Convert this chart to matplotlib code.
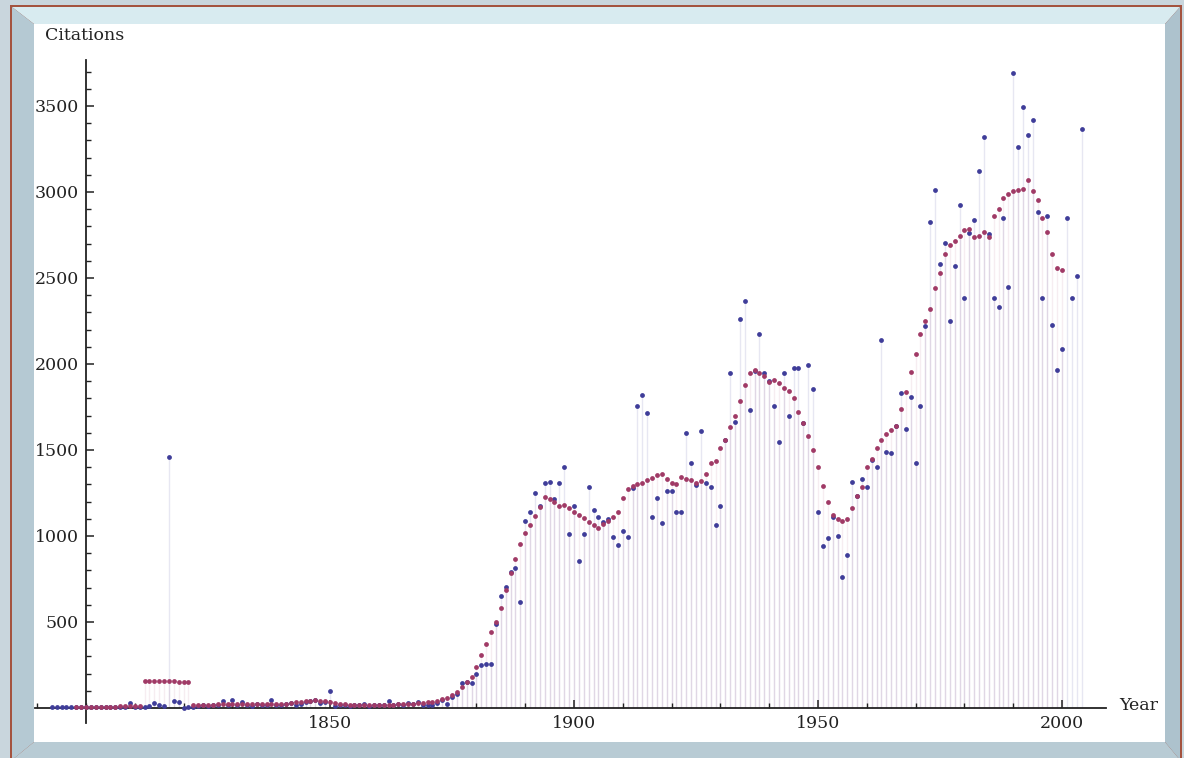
import matplotlib
matplotlib.use('Agg')
import matplotlib.pyplot as plt
from matplotlib.patches import Polygon
from matplotlib.ticker import FixedLocator, MultipleLocator

# Citations per year
years = list(range(1793, 2005))
citations = [
    3, 5, 4, 6, 5, 4, 6,
    5, 3, 5, 4, 6, 5, 8, 6, 5, 30,
    8, 6, 5, 10, 30, 18, 10, 1460, 42, 37,
    0, 8, 5, 10, 15, 10, 20, 15, 40, 20,
    48, 15, 35, 20, 10, 25, 20, 15, 48, 20,
    15, 25, 30, 20, 25, 35, 40, 45, 30, 35,
    100, 10, 20, 15, 10, 15, 20, 25, 10, 15,
    20, 15, 42, 20, 25, 20, 30, 25, 35, 20,
    15, 20, 30, 45, 23, 66, 81, 143, 153, 143,
    198, 250, 256, 256, 488, 651, 702, 792, 812, 618,
    1089, 1141, 1252, 1174, 1306, 1316, 1215, 1306, 1403, 1012,
    1175, 856, 1012, 1285, 1150, 1112, 1080, 1100, 992, 948,
    1031, 992, 1280, 1756, 1820, 1713, 1112, 1219, 1073, 1263,
    1263, 1141, 1141, 1601, 1426, 1296, 1613, 1306, 1283, 1064,
    1175, 1560, 1950, 1665, 2260, 2368, 1733, 1960, 2173, 1950,
    1900, 1756, 1549, 1950, 1698, 1975, 1975, 1655, 1994, 1853,
    1142, 942, 987, 1112, 1000, 760, 890, 1316, 1230, 1330,
    1283, 1440, 1403, 2140, 1490, 1481, 1640, 1830, 1621, 1809,
    1426, 1757, 2220, 2825, 3011, 2583, 2702, 2248, 2572, 2925,
    2384, 2760, 2836, 3124, 3322, 2756, 2384, 2330, 2847, 2449,
    3692, 3264, 3495, 3329, 3420, 2881, 2384, 2860, 2226, 1967,
    2086, 2847, 2384, 2514, 3366,
]

# Moving average of the yearly counts
avg_years = list(range(1798, 2001))
avg_citations = [
    4, 4,
    5, 5, 5, 6, 7, 8, 8, 9, 10, 12,
    12, 13, 155, 156, 157, 157, 156, 156, 155, 154,
    153, 152, 20, 18, 18, 20, 20, 22, 24, 25,
    25, 25, 25, 24, 23, 22, 22, 22, 22, 22,
    24, 26, 28, 32, 36, 40, 42, 44, 42, 38,
    34, 30, 26, 22, 20, 20, 20, 20, 20, 20,
    18, 18, 20, 20, 22, 22, 24, 26, 28, 30,
    33, 37, 42, 50, 60, 75, 95, 120, 150, 180,
    240, 308, 372, 440, 500, 580, 686, 783, 864, 953,
    1019, 1064, 1118, 1171, 1227, 1215, 1200, 1174, 1180, 1163,
    1140, 1120, 1105, 1080, 1064, 1047, 1070, 1090, 1112, 1141,
    1219, 1271, 1290, 1300, 1306, 1326, 1335, 1355, 1360, 1329,
    1310, 1300, 1343, 1331, 1326, 1308, 1322, 1360, 1422, 1438,
    1510, 1558, 1631, 1698, 1787, 1878, 1950, 1965, 1946, 1930,
    1898, 1905, 1888, 1859, 1845, 1800, 1720, 1655, 1580, 1500,
    1400, 1290, 1200, 1120, 1100, 1090, 1100, 1160, 1230, 1283,
    1400, 1450, 1510, 1560, 1595, 1615, 1640, 1736, 1840, 1952,
    2060, 2172, 2250, 2319, 2443, 2529, 2637, 2691, 2713, 2745,
    2778, 2782, 2739, 2745, 2767, 2740, 2860, 2903, 2968, 2990,
    3005, 3011, 3015, 3069, 3005, 2955, 2850, 2770, 2640, 2561,
    2544,
]

x_major = [1850, 1900, 1950, 2000]
y_major = [500, 1000, 1500, 2000, 2500, 3000, 3500]

blue = '#3f3d99'
purple = '#a03a66'
ink = '#222222'

W, H = 1184, 758
fig = plt.figure(figsize=(W / 100, H / 100), dpi=100)
fig.patch.set_facecolor('#c9d6dd')


def frame_piece(points, color):
    pts = [(x / W, 1 - y / H) for x, y in points]
    fig.add_artist(Polygon(pts, closed=True, transform=fig.transFigure,
                           facecolor=color, edgecolor='none', zorder=-5))


# brown outline and bevelled border around the white panel
frame_piece([(10, 5), (1182, 5), (1182, 760), (10, 760)], '#a4533f')
frame_piece([(12, 7), (1180, 7), (1165, 24), (34, 24)], '#d8ebf0')
frame_piece([(12, 7), (34, 24), (34, 742), (12, 760)], '#b5c9d3')
frame_piece([(12, 760), (34, 742), (1165, 742), (1180, 760)], '#b8cbd4')
frame_piece([(1180, 7), (1165, 24), (1165, 742), (1180, 760)], '#adc2cd')
frame_piece([(34, 24), (1165, 24), (1165, 742), (34, 742)], 'white')

ax = fig.add_axes([0.02936, 0.04554, 0.90470, 0.87589])
ax.patch.set_alpha(0)

# thin filling from the axis up to each point
ax.vlines(years, 0, citations, colors=blue, alpha=0.12, lw=1.0, zorder=1)
ax.vlines(avg_years, 0, avg_citations, colors=purple, alpha=0.09, lw=1.0, zorder=1)
ax.scatter(years, citations, s=12, color=blue, linewidths=0, zorder=3)
ax.scatter(avg_years, avg_citations, s=12, color=purple, linewidths=0, zorder=4)

ax.set_xlim(1789.5, 2009)
ax.set_ylim(-90, 3770)

for side in ['top', 'right']:
    ax.spines[side].set_visible(False)
ax.spines['left'].set_position(('data', 1800))
ax.spines['bottom'].set_position(('data', 0))
for side in ['left', 'bottom']:
    ax.spines[side].set_color(ink)
    ax.spines[side].set_linewidth(1.3)

ax.xaxis.set_major_locator(FixedLocator(x_major))
ax.xaxis.set_minor_locator(MultipleLocator(10))
ax.yaxis.set_major_locator(FixedLocator(y_major))
ax.yaxis.set_minor_locator(MultipleLocator(100))
ax.tick_params(which='major', direction='in', length=6, width=1.1, color=ink,
               labelsize=12.5, labelcolor=ink, pad=5)
ax.tick_params(which='minor', direction='in', length=3.5, width=1.0, color=ink)
for lab in ax.get_xticklabels() + ax.get_yticklabels():
    lab.set_family('DejaVu Serif')

fig.text(85 / W, 1 - 36 / H, 'Citations', family='DejaVu Serif', fontsize=12.5,
         color=ink, ha='center', va='center')
fig.text(1119 / W, 1 - 706 / H, 'Year', family='DejaVu Serif', fontsize=12.5,
         color=ink, ha='left', va='center')

fig.savefig('out.png', dpi=100, facecolor=fig.get_facecolor())
